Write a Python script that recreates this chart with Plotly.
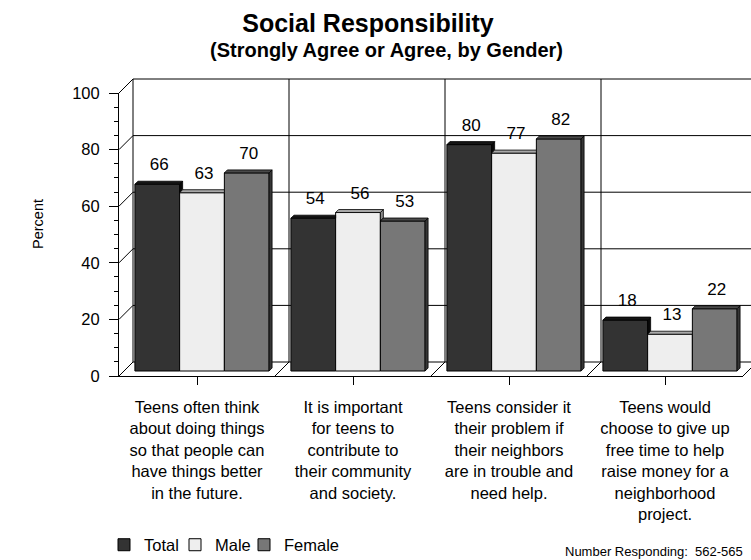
import plotly.graph_objects as go

# ---------------- data ----------------
categories = [
    "Teens often think<br>about doing things<br>so that people can<br>have things better<br>in the future.",
    "It is important<br>for teens to<br>contribute to<br>their community<br>and society.",
    "Teens consider it<br>their problem if<br>their neighbors<br>are in trouble and<br>need help.",
    "Teens would<br>choose to give up<br>free time to help<br>raise money for a<br>neighborhood<br>project.",
]
series_names = ["Total", "Male", "Female"]
total = [66, 54, 80, 18]
male = [63, 56, 77, 13]
female = [70, 53, 82, 22]
y_ticks = [0, 20, 40, 60, 80, 100]

# ---------------- styles / geometry ----------------
FONT = "Liberation Sans, Arial, sans-serif"
front_colors = ["#333333", "#eeeeee", "#777777"]
top_colors = ["#151515", "#a8a8a8", "#4a4a4a"]
side_colors = ["#0a0a0a", "#8a8a8a", "#363636"]
legend_x_px = [104, 175, 244]   # left edge of each legend entry

W, H = 751, 560
front_left, front_right = 119, 743
front_bottom, front_top = 376, 93
n_cat = len(categories)
ppc = (front_right - front_left) / n_cat      # px per category
ppu = (front_bottom - front_top) / 100.0       # px per value unit
bar_plane = 5      # depth (px) of bar front faces behind the front plane
bar_thick = 3      # bar depth (px)
wall = 14          # depth (px) of back wall
bargap = 0.14
bw = (1 - bargap) / len(series_names)

def to_data(c, v, d):
    """front-plane category coord c, value v, depth d(px) -> bar-plane data coords"""
    return c + (d - bar_plane) / ppc, v + (d - bar_plane) / ppu

# bar-plane axis ranges so that the subplot covers the whole page
x_lo = -0.5 - (front_left + bar_plane) / ppc
x_hi = -0.5 + (W - front_left - bar_plane) / ppc
y_lo = -(H - front_bottom + bar_plane) / ppu
y_hi = (front_bottom - bar_plane) / ppu

values = [total, male, female]
legend_ids = ["legend", "legend2", "legend3"]
fig = go.Figure()

# front faces (real bar traces)
for i, name in enumerate(series_names):
    fig.add_trace(go.Bar(
        x=list(range(n_cat)), y=values[i], name=name, legend=legend_ids[i],
        width=bw, offset=-(1 - bargap) / 2 + i * bw,
        marker=dict(color=front_colors[i], line=dict(color="black", width=1)),
        hoverinfo="skip",
    ))

# 3D top & side faces computed from the same values
dX = bar_thick / ppc
dY = bar_thick / ppu
for i in range(len(series_names)):
    tx, ty, sx, sy = [], [], [], []
    for g in range(n_cat):
        v = values[i][g]
        xl = g - (1 - bargap) / 2 + i * bw
        xr = xl + bw
        nxt = values[i + 1][g] if i + 1 < len(series_names) else None
        if nxt is not None and nxt > v:
            px = [xl, xr, xr, xl + dX, xl]
            py = [v, v, v + dY, v + dY, v]
        else:
            px = [xl, xr, xr + dX, xl + dX, xl]
            py = [v, v, v + dY, v + dY, v]
        tx += px + [None]
        ty += py + [None]
        lower = nxt if nxt is not None else 0
        if lower < v:
            sx += [xr, xr, xr + dX, xr + dX, xr, None]
            sy += [lower, v, v + dY, lower + dY, lower, None]
    if sx:
        fig.add_trace(go.Scatter(x=sx, y=sy, fill="toself", mode="lines",
                                 fillcolor=side_colors[i],
                                 line=dict(color="black", width=0.8),
                                 showlegend=False, hoverinfo="skip"))
    fig.add_trace(go.Scatter(x=tx, y=ty, fill="toself", mode="lines",
                             fillcolor=top_colors[i],
                             line=dict(color="black", width=0.8),
                             showlegend=False, hoverinfo="skip"))

# data labels
for i in range(len(series_names)):
    lx = [g - (1 - bargap) / 2 + i * bw + bw / 2 + 2 / ppc for g in range(n_cat)]
    ly = [v + 18 / ppu for v in values[i]]
    fig.add_trace(go.Scatter(x=lx, y=ly, mode="text", text=[str(v) for v in values[i]],
                             textposition="middle center",
                             textfont=dict(family=FONT, size=17, color="black"),
                             showlegend=False, hoverinfo="skip"))

# empty trace for the front (axis) plane subplot
fig.add_trace(go.Scatter(x=[None], y=[None], xaxis="x2", yaxis="y2",
                         showlegend=False, hoverinfo="skip"))

# ---------------- frame: walls, floor, gridlines ----------------
shapes = []
def seg(p0, p1):
    shapes.append(dict(type="line", xref="x", yref="y", layer="below",
                       x0=p0[0], y0=p0[1], x1=p1[0], y1=p1[1],
                       line=dict(color="black", width=1)))

for v in y_ticks:
    seg(to_data(-0.5, v, wall), to_data(n_cat - 0.5, v, wall))   # back wall gridline
    seg(to_data(-0.5, v, 0), to_data(-0.5, v, wall))             # side wall diagonal
seg(to_data(-0.5, 0, wall), to_data(-0.5, 100, wall))            # back wall left edge
for k in range(1, n_cat):
    seg(to_data(-0.5 + k, 0, wall), to_data(-0.5 + k, 100, wall))  # category dividers
for k in range(1, n_cat + 1):
    seg(to_data(-0.5 + k, 0, 0), to_data(-0.5 + k, 0, wall))     # floor diagonals

legend_style = dict(orientation="h", xanchor="left", y=1 - 545 / H, yanchor="middle",
                    font=dict(family=FONT, size=16.5, color="black"),
                    bgcolor="rgba(0,0,0,0)")

fig.update_layout(
    width=W, height=H,
    margin=dict(l=0, r=0, t=0, b=0, autoexpand=False),
    paper_bgcolor="white", plot_bgcolor="rgba(0,0,0,0)",
    barmode="overlay",
    font=dict(family=FONT, color="black"),
    shapes=shapes,
    showlegend=True,
    xaxis=dict(domain=[0, 1], range=[x_lo, x_hi], visible=False, fixedrange=True),
    yaxis=dict(domain=[0, 1], range=[y_lo, y_hi], visible=False, fixedrange=True),
    xaxis2=dict(domain=[front_left / W, front_right / W], range=[-0.5, n_cat - 0.5],
                anchor="y2", showline=True, linecolor="black", linewidth=1,
                ticks="outside", ticklen=8, tickcolor="black",
                tickvals=list(range(n_cat)), ticktext=categories,
                tickfont=dict(family=FONT, size=16.5, color="black"),
                ticklabelstandoff=8,
                showgrid=False, zeroline=False, fixedrange=True),
    yaxis2=dict(domain=[1 - front_bottom / H, 1 - front_top / H], range=[0, 100],
                anchor="x2", showline=True, linecolor="black", linewidth=1,
                ticks="outside", ticklen=9, tickcolor="black",
                tickvals=y_ticks, ticktext=[str(t) for t in y_ticks],
                minor=dict(ticks="outside", ticklen=4, dtick=5, tickcolor="black", showgrid=False),
                tickfont=dict(family=FONT, size=16.5, color="black"),
                ticklabelstandoff=6,
                showgrid=False, zeroline=False, fixedrange=True),
    title=dict(text="<b>Social Responsibility</b>", x=368 / W, xanchor="center",
               y=1 - 23.5 / H, yanchor="middle", yref="container",
               font=dict(family=FONT, size=25, color="black")),
    legend=dict(x=legend_x_px[0] / W, **legend_style),
    legend2=dict(x=legend_x_px[1] / W, **legend_style),
    legend3=dict(x=legend_x_px[2] / W, **legend_style),
    annotations=[
        dict(text="<b>(Strongly Agree or Agree, by Gender)</b>", x=386 / W, y=1 - 50 / H,
             xref="paper", yref="paper", xanchor="center", yanchor="middle",
             showarrow=False, font=dict(family=FONT, size=20, color="black")),
        dict(text="Percent", x=38 / W, y=1 - 224 / H, xref="paper", yref="paper",
             xanchor="center", yanchor="middle", textangle=-90, showarrow=False,
             font=dict(family=FONT, size=14.5, color="black")),
        dict(text="Number Responding:\u00a0 562-565", x=745 / W, y=1 - 551 / H,
             xref="paper", yref="paper", xanchor="right", yanchor="middle",
             showarrow=False, font=dict(family=FONT, size=13, color="black")),
    ],
)

fig.write_html("out.html")
